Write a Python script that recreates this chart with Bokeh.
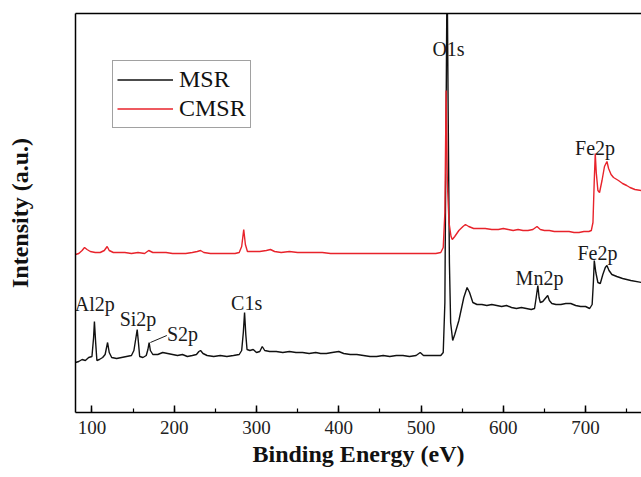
from bokeh.plotting import figure
from bokeh.models import Range1d, LinearAxis, SingleIntervalTicker, FixedTicker, Legend, LegendItem, ColumnDataSource
from bokeh.embed import file_html
from bokeh.resources import INLINE
from bokeh.core.properties import value

# ---- data (binding energy in eV, intensity in a.u.) ----
msr_energy = [80, 84, 88, 92, 96, 100, 102, 103, 104.5, 106, 109, 113, 116, 119, 121, 124, 130, 136, 142, 148,
              151, 153.5, 155, 156.5, 158, 162, 166, 168, 169.5, 171, 174, 180, 186, 192, 198, 204, 210, 216,
              222, 227, 230, 232, 235, 240, 248, 256, 264, 272, 279, 282, 284, 285.5, 287, 288.5, 292, 296,
              300, 304, 307, 310, 316, 324, 332, 340, 348, 356, 364, 372, 378, 385, 392, 400, 406, 414, 422,
              430, 438, 446, 454, 462, 470, 478, 486, 494, 499, 503, 510, 518, 524, 527, 529, 530.5, 531.7,
              533, 534.5, 536, 538.5, 541, 546, 552, 556, 559, 563, 568, 574, 580, 586, 592, 598, 604, 610,
              616, 622, 628, 634, 638, 640, 642, 643.5, 645, 648, 651, 654, 656, 659, 664, 670, 676, 682,
              688, 694, 700, 705, 708, 709.5, 710.6, 712.5, 715, 717.9, 721, 724, 726, 728.5, 732, 738, 745,
              755, 768]
msr_intensity = [50, 51, 53, 52, 55, 56, 75, 91, 70, 52, 53, 55, 58, 70, 60, 55, 54, 55, 56, 57,
                 62, 75, 83, 70, 56, 55, 57, 63, 70, 62, 58, 58, 60, 59, 58, 57, 58, 56,
                 57, 58, 61, 62, 59, 57, 56, 57, 56, 57, 58, 62, 80, 100, 78, 63, 62, 63,
                 60, 61, 66, 62, 61, 61, 60, 61, 60, 60, 59, 60, 59, 59, 60, 61, 59, 58, 58,
                 57, 56, 56, 57, 56, 57, 57, 56, 57, 60, 57, 57, 57, 57, 60, 110, 300, 450,
                 300, 150, 90, 72, 78, 92, 115, 125, 120, 110, 108, 108, 107, 108, 107, 106, 107, 105,
                 104, 105, 104, 103, 104, 115, 127, 115, 110, 111, 114, 117, 112, 109, 108, 108, 109, 109,
                 107, 106, 106, 104, 108, 130, 152, 140, 130, 129, 138, 145, 147, 142, 138, 136, 134,
                 132, 130]

cmsr_energy = [80, 84, 88, 91, 94, 98, 104, 110, 115, 118.5, 121, 126, 132, 140, 148, 156, 164, 169, 174,
               182, 190, 198, 206, 214, 222, 228, 232, 236, 244, 252, 260, 268, 274, 279, 282, 284.5, 286.5,
               289, 296, 304, 312, 317, 322, 330, 340, 350, 360, 370, 380, 390, 400, 410, 420, 430, 440,
               450, 460, 470, 480, 490, 500, 510, 518, 524, 527, 529, 530.5, 532, 534, 536.5, 538, 541,
               546, 551, 554, 558, 564, 570, 578, 586, 594, 600, 606, 612, 618, 624, 630, 636, 641, 645,
               650, 656, 662, 668, 674, 680, 686, 692, 698, 704, 707, 709, 710.5, 711.8, 713, 715, 717,
               720, 723, 726, 728, 731, 734, 740, 745, 750, 754, 760, 768]
cmsr_intensity = [158, 159, 162, 165, 163, 161, 160, 160, 162, 166, 162, 160, 160, 160, 159, 160, 159, 162, 160,
                  160, 160, 159, 159, 159, 160, 161, 162, 160, 159, 159, 159, 159, 159, 160, 166, 183, 168,
                  161, 161, 161, 162, 163, 161, 160, 161, 160, 160, 160, 160, 159, 159, 159, 159, 159, 159,
                  159, 159, 159, 159, 159, 159, 159, 159, 160, 165, 200, 322, 230, 190, 176, 173, 176,
                  182, 186, 188, 186, 184, 184, 184, 183, 183, 184, 183, 182, 183, 182, 182, 183, 186, 183,
                  182, 182, 181, 181, 181, 181, 180, 180, 181, 181, 182, 190, 230, 259, 240, 222, 220,
                  232, 246, 251, 244, 238, 235, 232, 229, 227, 225, 223, 222]

peak_labels = ["Al2p", "Si2p", "S2p", "C1s", "O1s", "Mn2p", "Fe2p", "Fe2p"]
peak_label_x = [103.5, 156, 210, 288, 533.4, 644, 714.5, 711.5]
peak_label_y = [109, 94, 79, 110, 364, 135, 160, 265]
s2p_leader_x = [171, 191]
s2p_leader_y = [70, 77]

x_start, x_end = 80, 768
y_start, y_end = 0, 399

SERIF = "Liberation Serif"

p = figure(width=641, height=477, x_range=Range1d(x_start, x_end), y_range=Range1d(y_start, y_end),
           output_backend="svg", toolbar_location=None,
           min_border_left=75, min_border_right=0, min_border_top=13, min_border_bottom=65,
           x_axis_label="Binding Energy (eV)", y_axis_label="Intensity (a.u.)")
p.outline_line_color = None
p.grid.visible = False
p.background_fill_color = "white"
p.border_fill_color = "white"

xa = p.xaxis[0]
xa.ticker = SingleIntervalTicker(interval=100, num_minor_ticks=2)
xa.major_tick_in = 7
xa.major_tick_out = 0
xa.minor_tick_in = 4
xa.minor_tick_out = 0
xa.axis_line_width = 1.5
xa.major_tick_line_width = 1.5
xa.minor_tick_line_width = 1.2
xa.major_label_text_font = SERIF
xa.major_label_text_font_size = "19px"
xa.major_label_text_color = "#222222"
xa.major_label_standoff = 8
xa.axis_label_text_font = SERIF
xa.axis_label_text_font_style = "bold"
xa.axis_label_text_font_size = "24px"
xa.axis_label_standoff = 4
xa.axis_label_text_color = "#111111"

ya = p.yaxis[0]
ya.ticker = FixedTicker(ticks=[])
ya.major_tick_line_color = None
ya.minor_tick_line_color = None
ya.axis_line_width = 1.5
ya.axis_label_text_font = SERIF
ya.axis_label_text_font_style = "bold"
ya.axis_label_text_font_size = "24px"
ya.axis_label_standoff = 43
ya.axis_label_text_color = "#111111"

top = LinearAxis(ticker=FixedTicker(ticks=[]), major_tick_line_color=None, minor_tick_line_color=None,
                 axis_line_width=1.5, major_label_text_font_size="0px")
p.add_layout(top, "above")

src_msr = ColumnDataSource(dict(x=msr_energy, y=msr_intensity))
src_cmsr = ColumnDataSource(dict(x=cmsr_energy, y=cmsr_intensity))
r_msr = p.line("x", "y", source=src_msr, line_color="#111111", line_width=1.4)
r_cmsr = p.line("x", "y", source=src_cmsr, line_color="#e8232b", line_width=1.4)

lbl_src = ColumnDataSource(dict(x=peak_label_x, y=peak_label_y, t=peak_labels))
p.text("x", "y", text="t", source=lbl_src, text_font=value(SERIF), text_font_size=value("20px"),
       text_align="center", text_baseline="middle", text_color="#1a1a1a")
p.line(s2p_leader_x, s2p_leader_y, line_color="#1a1a1a", line_width=1)

legend = Legend(items=[LegendItem(label="MSR", renderers=[r_msr]),
                       LegendItem(label="CMSR", renderers=[r_cmsr])],
                location=(37, 284), margin=0, padding=4, spacing=0,
                glyph_width=56, glyph_height=29, label_height=29, label_standoff=6,
                label_text_font=SERIF, label_text_font_size="24px", label_text_color="#111111",
                border_line_color="#444444", border_line_width=1.2, background_fill_alpha=1)
p.add_layout(legend)

open("out.html", "w").write(file_html(p, INLINE))
